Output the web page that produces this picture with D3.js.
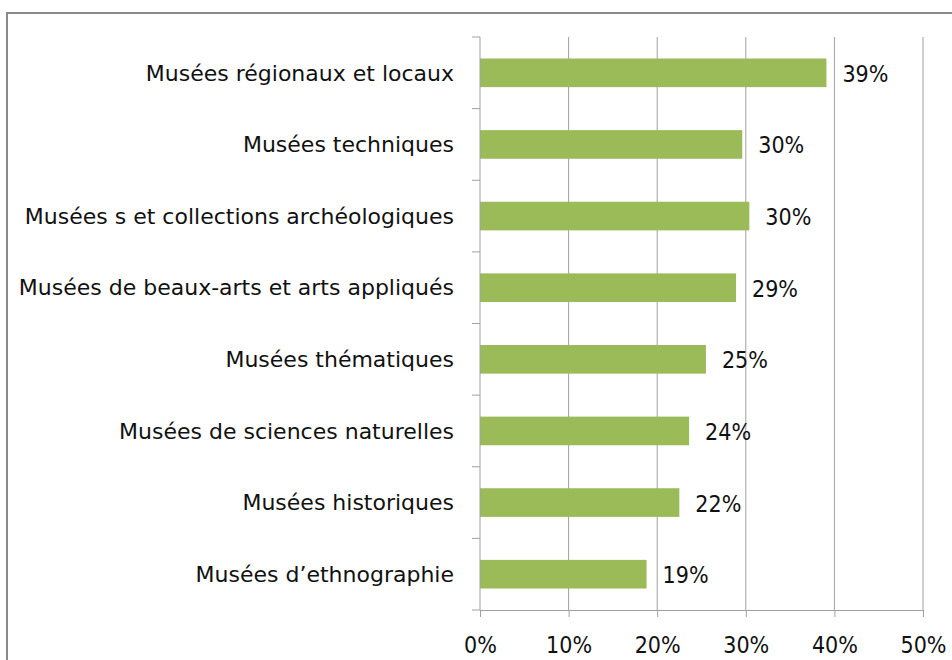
<!DOCTYPE html>
<html>
<head>
<meta charset="utf-8">
<script src="https://cdn.jsdelivr.net/npm/d3@7"></script>
<style>
  body { margin: 0; background: #fff; }
  svg { display: block; }
  text { fill: #111; }
</style>
</head>
<body>
<div id="chart"></div>
<script>
const width = 952;
const height = 660;

const categories = [
  "Musées régionaux et locaux",
  "Musées techniques",
  "Musées s et collections archéologiques",
  "Musées de beaux-arts et arts appliqués",
  "Musées thématiques",
  "Musées de sciences naturelles",
  "Musées historiques",
  "Musées d’ethnographie"
];
const values = [39.1, 29.6, 30.4, 28.9, 25.5, 23.6, 22.5, 18.8];
const valueLabels = ["39%", "30%", "30%", "29%", "25%", "24%", "22%", "19%"];
const xTicks = [0, 10, 20, 30, 40, 50];

const narrowFont = '"DejaVu Sans Condensed", "DejaVu Sans", sans-serif';
const wideFont = '"DejaVu Sans", sans-serif';
const margin = { left: 480, top: 37 };
const plotBottom = 610;

const svg = d3.select('#chart').append('svg')
  .attr('width', width)
  .attr('height', height);

// outer frame, runs off the right and bottom edges
svg.append('rect')
  .attr('x', 7)
  .attr('y', 13)
  .attr('width', 1000)
  .attr('height', 800)
  .attr('fill', 'none')
  .attr('stroke', '#8a8a8a')
  .attr('stroke-width', 2);

const x = d3.scaleLinear()
  .domain([0, 50])
  .range([margin.left, 923]);

const y = d3.scaleBand()
  .domain(categories)
  .range([margin.top, plotBottom])
  .paddingInner(0.6)
  .paddingOuter(0.3);

// gridlines
svg.append('g')
  .selectAll('line')
  .data(xTicks.slice(1))
  .join('line')
  .attr('x1', d => x(d))
  .attr('x2', d => x(d))
  .attr('y1', margin.top)
  .attr('y2', plotBottom)
  .attr('stroke', '#a0a0a0')
  .attr('stroke-width', 1);

// bars
svg.append('g')
  .selectAll('rect')
  .data(values)
  .join('rect')
  .attr('x', x(0))
  .attr('y', (d, i) => y(categories[i]))
  .attr('width', d => x(d) - x(0))
  .attr('height', y.bandwidth())
  .attr('fill', '#9bbb59');

// value labels
svg.append('g')
  .selectAll('text')
  .data(values)
  .join('text')
  .attr('x', d => x(d) + 16)
  .attr('y', (d, i) => y(categories[i]) + y.bandwidth() / 2 + 1)
  .attr('dy', '0.35em')
  .style('font-family', narrowFont)
  .style('font-size', '23px')
  .text((d, i) => valueLabels[i]);

// bottom axis
const xAxis = svg.append('g')
  .attr('transform', `translate(0,${plotBottom})`)
  .call(d3.axisBottom(x).tickValues(xTicks).tickFormat(d => d + '%').tickSizeInner(7).tickSizeOuter(0).tickPadding(20));
xAxis.select('.domain').attr('stroke', '#a0a0a0');
xAxis.selectAll('.tick line').attr('stroke', '#a0a0a0');
xAxis.selectAll('.tick text')
  .style('font-family', narrowFont)
  .style('font-size', '23px')
  .attr('fill', '#111');

// left axis with ticks at band boundaries
const boundaries = d3.range(categories.length + 1).map(i => margin.top + i * (plotBottom - margin.top) / categories.length);
svg.append('line')
  .attr('x1', x(0)).attr('x2', x(0))
  .attr('y1', margin.top).attr('y2', plotBottom)
  .attr('stroke', '#a0a0a0');
svg.append('g')
  .selectAll('line')
  .data(boundaries)
  .join('line')
  .attr('x1', x(0) - 8)
  .attr('x2', x(0))
  .attr('y1', d => d)
  .attr('y2', d => d)
  .attr('stroke', '#a0a0a0');

// category labels
svg.append('g')
  .selectAll('text')
  .data(categories)
  .join('text')
  .attr('x', x(0) - 26)
  .attr('y', d => y(d) + y.bandwidth() / 2)
  .attr('dy', '0.35em')
  .attr('text-anchor', 'end')
  .style('font-family', wideFont)
  .style('font-size', '22px')
  .text(d => d);
</script>
</body>
</html>
